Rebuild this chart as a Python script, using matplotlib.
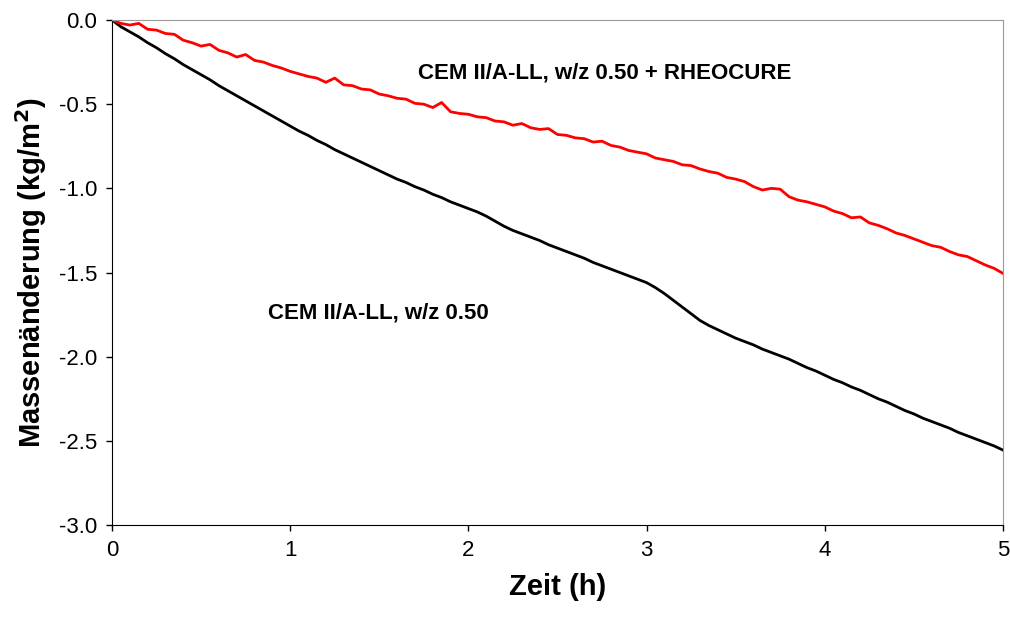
import matplotlib
matplotlib.use("Agg")
import matplotlib.pyplot as plt
import numpy as np

plt.rcParams['font.family'] = ['Liberation Sans', 'DejaVu Sans']

# time axis (h), readings every 0.05 h
zeit = np.round(np.arange(0, 5.001, 0.05), 2)

# CEM II/A-LL, w/z 0.50 + RHEOCURE (red)
rheocure = [
    0.000, -0.020, -0.030, -0.020, -0.055, -0.060, -0.080, -0.085, -0.120, -0.135,
    -0.155, -0.145, -0.180, -0.195, -0.220, -0.205, -0.240, -0.250, -0.270, -0.285,
    -0.305, -0.320, -0.335, -0.345, -0.370, -0.345, -0.385, -0.390, -0.410, -0.415,
    -0.440, -0.450, -0.465, -0.470, -0.495, -0.500, -0.520, -0.490, -0.545, -0.555,
    -0.560, -0.575, -0.580, -0.600, -0.605, -0.625, -0.615, -0.640, -0.650, -0.645,
    -0.680, -0.685, -0.700, -0.705, -0.725, -0.720, -0.745, -0.755, -0.775, -0.785,
    -0.795, -0.820, -0.830, -0.840, -0.860, -0.865, -0.885, -0.900, -0.910, -0.935,
    -0.945, -0.960, -0.990, -1.010, -1.000, -1.005, -1.050, -1.070, -1.080, -1.095,
    -1.110, -1.135, -1.150, -1.175, -1.170, -1.205, -1.220, -1.240, -1.265, -1.280,
    -1.300, -1.320, -1.340, -1.350, -1.375, -1.395, -1.405, -1.430, -1.455, -1.475,
    -1.490, -1.505,
][:len(zeit)]
rheocure[-1] = -1.505

# CEM II/A-LL, w/z 0.50 (black)
referenz = [
    0.000, -0.040, -0.070, -0.100, -0.135, -0.165, -0.200, -0.230, -0.265, -0.295,
    -0.325, -0.355, -0.390, -0.420, -0.450, -0.480, -0.510, -0.540, -0.570, -0.600,
    -0.630, -0.660, -0.685, -0.715, -0.740, -0.770, -0.795, -0.820, -0.845, -0.870,
    -0.895, -0.920, -0.945, -0.965, -0.990, -1.010, -1.035, -1.055, -1.080, -1.100,
    -1.120, -1.140, -1.165, -1.195, -1.225, -1.250, -1.270, -1.290, -1.310, -1.335,
    -1.355, -1.375, -1.395, -1.415, -1.440, -1.460, -1.480, -1.500, -1.520, -1.540,
    -1.560, -1.590, -1.625, -1.665, -1.705, -1.745, -1.785, -1.815, -1.840, -1.865,
    -1.890, -1.910, -1.930, -1.955, -1.975, -1.995, -2.015, -2.040, -2.065, -2.085,
    -2.110, -2.135, -2.155, -2.180, -2.200, -2.225, -2.250, -2.270, -2.295, -2.320,
    -2.340, -2.365, -2.385, -2.405, -2.425, -2.450, -2.470, -2.490, -2.510, -2.530,
    -2.555,
]

x_ticks = [0, 1, 2, 3, 4, 5]
y_ticks = [0.0, -0.5, -1.0, -1.5, -2.0, -2.5, -3.0]

fig = plt.figure(figsize=(10.1, 6.18), dpi=100)
ax = fig.add_axes([0.1109, 0.1505, 0.8821, 0.8171])

ax.plot(zeit, referenz, color="black", linewidth=2.0)
ax.plot(zeit, rheocure, color="#ff0000", linewidth=2.0)

ax.set_xlim(0, 5)
ax.set_ylim(-3, 0)
ax.set_xticks(x_ticks)
ax.set_yticks(y_ticks)
ax.set_yticklabels([f"{v:.1f}" for v in y_ticks])
ax.tick_params(direction="out", length=4.5, width=1, labelsize=16, pad=6)

for side in ["left", "bottom"]:
    ax.spines[side].set_color("black")
for side in ["top", "right"]:
    ax.spines[side].set_color("#999999")

ax.set_xlabel("Zeit (h)", fontsize=21, fontweight="bold", labelpad=9)
ax.set_ylabel("Massenänderung (kg/m$^\\mathbf{2}$)", fontsize=21, fontweight="bold", labelpad=7)

ax.text(1.717, -0.315, "CEM II/A-LL, w/z 0.50 + RHEOCURE", fontsize=16,
        fontweight="bold", va="center", ha="left")
ax.text(0.875, -1.741, "CEM II/A-LL, w/z 0.50", fontsize=16,
        fontweight="bold", va="center", ha="left")

fig.savefig("out.png", dpi=100)
